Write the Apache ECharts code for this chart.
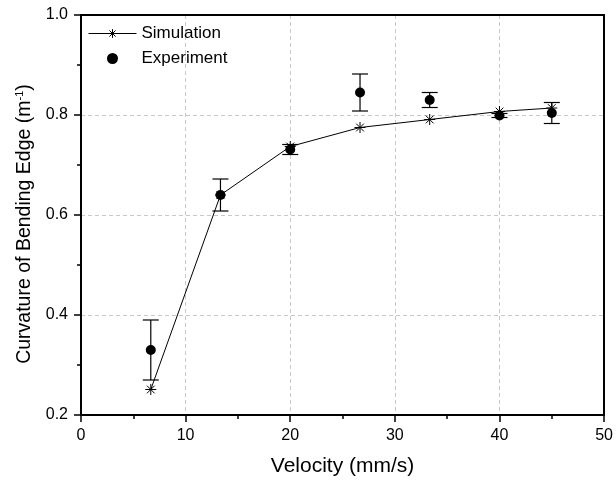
<!DOCTYPE html>
<html>
<head>
<meta charset="utf-8">
<script src="https://cdn.jsdelivr.net/npm/echarts@6/dist/echarts.min.js"></script>
<style>html,body{margin:0;padding:0;background:#fff}#c{width:616px;height:482px}</style>
</head>
<body>
<div id="c"></div>
<script>
const velocity = [6.67, 13.33, 20, 26.67, 33.33, 40, 45];
const simulation = [0.251, 0.640, 0.737, 0.775, 0.791, 0.807, 0.814];
const experiment = [0.330, 0.640, 0.731, 0.845, 0.830, 0.799, 0.804];
const expError = [0.060, 0.032, 0.010, 0.037, 0.015, 0.004, 0.021];
const xTicks = [0, 10, 20, 30, 40, 50];
const yTicks = [0.2, 0.4, 0.6, 0.8, 1.0];

const FONT = 'Liberation Sans';
const chart = echarts.init(document.getElementById('c'));
const starPath = 'path://M5 0 L5 10 M0 5 L10 5 M1.5 1.5 L8.5 8.5 M8.5 1.5 L1.5 8.5';

const simData = velocity.map((v, i) => [v, simulation[i]]);
const expData = velocity.map((v, i) => [v, experiment[i]]);
const errData = velocity.map((v, i) => [v, experiment[i] - expError[i], experiment[i] + expError[i]]);

const tickStyle = { color: '#000', width: 1.5 };
const gridLine = { show: true, lineStyle: { color: '#c8c8c8', type: [4, 3], width: 1 } };

chart.setOption({
  animation: false,
  backgroundColor: '#fff',
  textStyle: { fontFamily: FONT },
  grid: { left: 81, right: 9, top: 15, bottom: 67 },
  legend: {
    orient: 'vertical', left: 88, top: 25, padding: 0, itemWidth: 48, itemHeight: 11, itemGap: 8,
    textStyle: { fontFamily: FONT, fontSize: 17, color: '#000' },
    lineStyle: { width: 1, color: '#000' },
    data: [
      { name: 'Simulation', itemStyle: { color: 'rgba(0,0,0,0)', borderColor: '#000', borderWidth: 1 } },
      { name: 'Experiment', icon: 'circle', itemStyle: { color: '#000' } }
    ]
  },
  xAxis: [{
    type: 'value', min: 0, max: 50, interval: 10,
    name: 'Velocity (mm/s)', nameLocation: 'middle', nameGap: 41,
    nameTextStyle: { fontFamily: FONT, fontSize: 21, color: '#000' },
    axisLine: { onZero: false, lineStyle: { color: '#000', width: 2 } },
    axisTick: { show: true, inside: false, length: 7, lineStyle: tickStyle },
    minorTick: { show: true, splitNumber: 2, length: 4, lineStyle: tickStyle },
    axisLabel: { fontFamily: FONT, fontSize: 16, color: '#000', margin: 13 },
    splitLine: gridLine
  }, {
    type: 'value', position: 'top', min: 0, max: 50, interval: 10,
    axisLine: { show: true, onZero: false, lineStyle: { color: '#000', width: 2 } },
    axisTick: { show: false }, axisLabel: { show: false }, splitLine: { show: false }
  }],
  yAxis: [{
    type: 'value', min: 0.2, max: 1.0, interval: 0.2,
    name: 'Curvature of Bending Edge (m{sup|-1})', nameLocation: 'middle', nameGap: 46,
    nameTextStyle: { fontFamily: FONT, fontSize: 19.5, color: '#000', padding: [0, 18, 0, 0],
      rich: { sup: { fontFamily: FONT, fontSize: 11, color: '#000', verticalAlign: 'top', padding: [0, 0, 9, 0] } } },
    axisLine: { onZero: false, lineStyle: { color: '#000', width: 2 } },
    axisTick: { show: true, inside: false, length: 7, lineStyle: tickStyle },
    minorTick: { show: true, splitNumber: 2, length: 4, lineStyle: tickStyle },
    axisLabel: { fontFamily: FONT, fontSize: 16, color: '#000', margin: 13, formatter: v => v.toFixed(1) },
    splitLine: gridLine
  }, {
    type: 'value', position: 'right', min: 0.2, max: 1.0, interval: 0.2,
    axisLine: { show: true, onZero: false, lineStyle: { color: '#000', width: 2 } },
    axisTick: { show: false }, axisLabel: { show: false }, splitLine: { show: false }
  }],
  series: [
    {
      name: 'ErrorBars', type: 'custom', z: 3,
      renderItem: function (params, api) {
        const x = api.value(0);
        const lo = api.coord([x, api.value(1)]);
        const hi = api.coord([x, api.value(2)]);
        const w = 8;
        const st = { stroke: '#000', lineWidth: 1.2 };
        return { type: 'group', children: [
          { type: 'line', shape: { x1: lo[0], y1: lo[1], x2: hi[0], y2: hi[1] }, style: st },
          { type: 'line', shape: { x1: lo[0] - w, y1: lo[1], x2: lo[0] + w, y2: lo[1] }, style: st },
          { type: 'line', shape: { x1: hi[0] - w, y1: hi[1], x2: hi[0] + w, y2: hi[1] }, style: st }
        ] };
      },
      encode: { x: 0, y: [1, 2] },
      data: errData
    },
    {
      name: 'Experiment', type: 'scatter', z: 4, symbol: 'circle', symbolSize: 10,
      itemStyle: { color: '#000', opacity: 1 },
      data: expData
    },
    {
      name: 'Simulation', type: 'line', z: 5, symbol: starPath, symbolSize: 11, showSymbol: true,
      lineStyle: { color: '#000', width: 1 },
      itemStyle: { color: 'rgba(0,0,0,0)', borderColor: '#000', borderWidth: 1 },
      data: simData
    }
  ]
});
</script>
</body>
</html>
